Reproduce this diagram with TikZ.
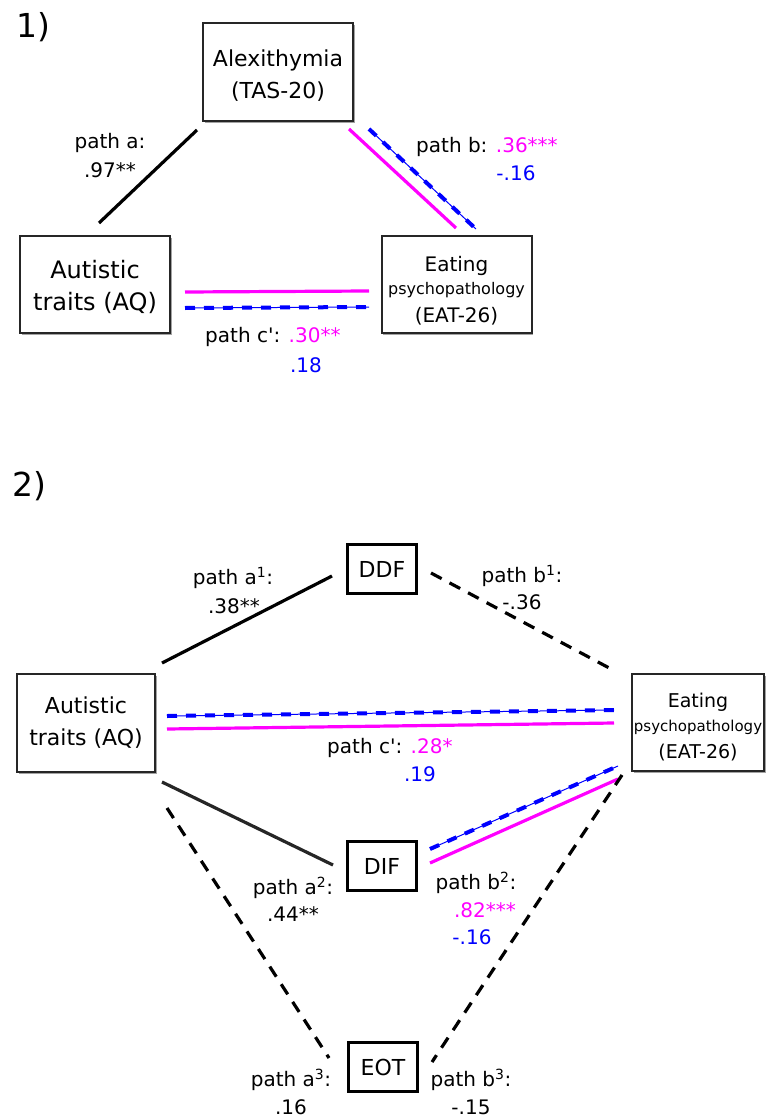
\documentclass[tikz,border=0pt]{standalone}
\usepackage{fontspec}
\setmainfont{DejaVu Sans}[Ligatures=TeXOff]
\usetikzlibrary{shadows}
\definecolor{mag}{RGB}{255,0,255}
\definecolor{blu}{RGB}{0,0,255}
\newcommand{\fs}[2]{\fontsize{#1}{#2}\selectfont}
\tikzset{
  varbox/.style={draw=black!85, line width=2pt, fill=white, inner sep=0pt, align=center,
    drop shadow={shadow xshift=1.6pt, shadow yshift=-1.6pt, fill=black!45, opacity=0.8}},
  medbox/.style={draw=black, line width=3pt, fill=white, inner sep=0pt,
    minimum width=69pt, minimum height=49pt, font=\fs{22}{26}},
  lbl/.style={inner sep=0pt, font=\fs{20}{24}},
  blk/.style={line width=3.2pt, black},
  blkdash/.style={line width=3.2pt, black, dash pattern=on 12pt off 9pt},
  magline/.style={line width=3.2pt, mag},
  bluline/.style={line width=1pt, blu, postaction={draw=blu, line width=4pt, dash pattern=on 10pt off 9pt}},
}
\begin{document}
\begin{tikzpicture}[x=1pt,y=-1pt]
\useasboundingbox (0,0) rectangle (765,1118);

% ---------- Part 1 ----------
\node[inner sep=0pt, font=\fs{33}{36}] (n1) at (33,27) {1)};
\node[varbox, minimum width=150pt, minimum height=98pt, font=\fs{22}{32}] (alex) at (278,72) {\rule{0pt}{23pt}Alexithymia\\(TAS-20)};
\node[varbox, minimum width=150pt, minimum height=97pt, font=\fs{24}{32}] (aq1) at (95,284.5) {\rule{0pt}{23pt}Autistic\\traits (AQ)};
\node[varbox, minimum width=150pt, minimum height=97pt, font=\fs{20}{26}] (eat1) at (456.5,284.5)
  {\rule{0pt}{27pt}Eating\\[-3pt]{\fs{16}{24}psychopathology}\\[2pt](EAT-26)};

\coordinate (pa1s) at (197,130); \coordinate (pa1e) at (99,223);
\draw[blk] (pa1s) -- (pa1e);
\coordinate (pbm1s) at (349,129); \coordinate (pbm1e) at (456,228);
\coordinate (pbb1s) at (369,129); \coordinate (pbb1e) at (476,229);
\draw[magline] (pbm1s) -- (pbm1e);
\draw[bluline] (pbb1s) -- (pbb1e);
\coordinate (pcm1s) at (185,292); \coordinate (pcm1e) at (369,291);
\coordinate (pcb1s) at (185,308); \coordinate (pcb1e) at (369,307);
\draw[magline] (pcm1s) -- (pcm1e);
\draw[bluline] (pcb1s) -- (pcb1e);

\node[lbl] (la1) at (110,143) {path a:};
\node[lbl] (la1v) at (110,170) {.97**};
\node[lbl, anchor=west] (lb1) at (416,147) {path b: \textcolor{mag}{.36***}};
\node[lbl, text=blu] (lb1v) at (516,173) {-.16};
\node[lbl, anchor=west] (lc1) at (205,337) {path c': \textcolor{mag}{.30**}};
\node[lbl, text=blu] (lc1v) at (306,365) {.18};

% ---------- Part 2 ----------
\node[inner sep=0pt, font=\fs{33}{36}] (n2) at (29,486) {2)};
\node[varbox, minimum width=138pt, minimum height=98pt, font=\fs{22}{32}] (aq2) at (86,723) {Autistic\\traits (AQ)};
\node[varbox, minimum width=132pt, minimum height=97pt, font=\fs{19}{25}] (eat2) at (698,722.5)
  {\rule{0pt}{23.5pt}Eating\\[-1pt]{\fs{15}{24}psychopathology}\\[2pt](EAT-26)};
\node[medbox] (ddf) at (382,569) {DDF};
\node[medbox] (dif) at (382,866) {DIF};
\node[medbox] (eot) at (383,1067) {EOT};

\coordinate (a1s) at (162,663); \coordinate (a1e) at (332,576);
\draw[blk] (a1s) -- (a1e);
\coordinate (b1s) at (431,573); \coordinate (b1e) at (613,670);
\draw[blkdash] (b1s) -- (b1e);
\coordinate (cb2s) at (167,716); \coordinate (cb2e) at (614,710);
\coordinate (cm2s) at (167,729); \coordinate (cm2e) at (614,723);
\draw[bluline] (cb2s) -- (cb2e);
\draw[magline] (cm2s) -- (cm2e);
\coordinate (a2s) at (162,782); \coordinate (a2e) at (333,865);
\draw[blk, black!85] (a2s) -- (a2e);
\coordinate (bb2s) at (430,849); \coordinate (bb2e) at (618,766);
\coordinate (bm2s) at (430,863); \coordinate (bm2e) at (618,779);
\draw[bluline] (bb2s) -- (bb2e);
\draw[magline] (bm2s) -- (bm2e);
\coordinate (a3s) at (167,808); \coordinate (a3e) at (329,1058);
\draw[blkdash] (a3s) -- (a3e);
\coordinate (b3s) at (622,775); \coordinate (b3e) at (432,1062);
\draw[blkdash] (b3s) -- (b3e);

\node[lbl] (la2a) at (233,578) {path a\textsuperscript{1}:};
\node[lbl] (la2av) at (234,606) {.38**};
\node[lbl] (lb2a) at (522,576) {path b\textsuperscript{1}:};
\node[lbl] (lb2av) at (522,602) {-.36};
\node[lbl, anchor=west] (lc2) at (327,748) {path c': \textcolor{mag}{.28*}};
\node[lbl, text=blu] (lc2v) at (420,774) {.19};
\node[lbl] (la2b) at (293,888) {path a\textsuperscript{2}:};
\node[lbl] (la2bv) at (293,914) {.44**};
\node[lbl] (lb2b) at (476,883) {path b\textsuperscript{2}:};
\node[lbl, text=mag] (lb2bv) at (485,910) {.82***};
\node[lbl, text=blu] (lb2bw) at (472,937) {-.16};
\node[lbl] (la2c) at (291,1080) {path a\textsuperscript{3}:};
\node[lbl] (la2cv) at (291,1107) {.16};
\node[lbl] (lb2c) at (471,1080) {path b\textsuperscript{3}:};
\node[lbl] (lb2cv) at (471,1107) {-.15};
\end{tikzpicture}
\end{document}
